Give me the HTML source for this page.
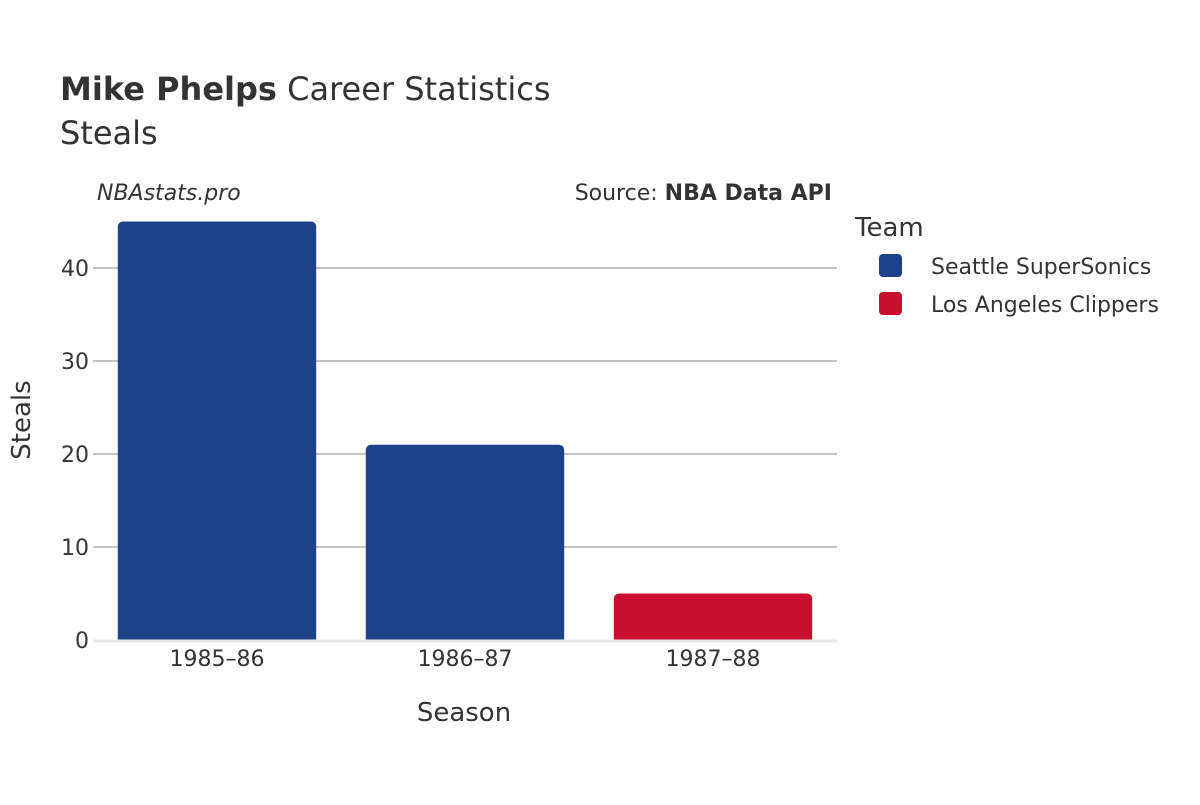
<!DOCTYPE html>
<html><head><meta charset="utf-8"><style>
body{margin:0;background:#fff;}
svg{font-family:"DejaVu Sans","Liberation Sans",sans-serif;}
</style></head><body>
<svg width="1200" height="800" viewBox="0 0 1200 800">
<rect width="1200" height="800" fill="#fff"/>
<text x="60" y="100" font-size="32" fill="#333"><tspan font-weight="bold">Mike Phelps</tspan> Career Statistics</text>
<text x="60" y="144" font-size="32" fill="#333">Steals</text>
<text x="97" y="200" font-size="22" font-style="italic" fill="#333">NBAstats.pro</text>
<text x="832" y="200" font-size="22" text-anchor="end" fill="#333">Source: <tspan font-weight="bold">NBA Data API</tspan></text>
<g id="grid"></g>
<g id="bars"></g>
<g id="xt"></g>
<text x="30" y="420" font-size="26" fill="#333" text-anchor="middle" transform="rotate(-90 30 420)">Steals</text>
<text x="464" y="721" font-size="26" fill="#333" text-anchor="middle">Season</text>
<text x="855" y="236" font-size="26" fill="#333">Team</text>
<g><rect x="879" y="254" width="23" height="23" rx="4" fill="#1d428a"/><text x="931" y="274" font-size="22" fill="#333">Seattle SuperSonics</text></g>
<g><rect x="879" y="292" width="23" height="23" rx="4" fill="#c8102e"/><text x="931" y="312" font-size="22" fill="#333">Los Angeles Clippers</text></g>
</svg>
<script>
const seasons=["1985–86","1986–87","1987–88"];
const steals=[45,21,5];
const teams=["Seattle SuperSonics","Seattle SuperSonics","Los Angeles Clippers"];
const yTicks=[0,10,20,30,40];
const colors={"Seattle SuperSonics":"#1d428a","Los Angeles Clippers":"#c8102e"};
const NS="http://www.w3.org/2000/svg";
const x0=93,x1=837,y0=640,pxPer=9.3;
const y=v=>y0-v*pxPer;
const band=(x1-x0)/seasons.length;
const g=document.getElementById('grid');
yTicks.forEach(t=>{
 if(t>0){const l=document.createElementNS(NS,'line');
 l.setAttribute('x1',x0);l.setAttribute('x2',x1);l.setAttribute('y1',y(t));l.setAttribute('y2',y(t));
 l.setAttribute('stroke','#888');l.setAttribute('stroke-width','1');
 
 
 g.appendChild(l);}
 const tx=document.createElementNS(NS,'text');
 tx.setAttribute('x',x0-4);tx.setAttribute('y',y(t)+8);tx.setAttribute('font-size','22');
 tx.setAttribute('fill','#333');tx.setAttribute('text-anchor','end');tx.textContent=t;
 
 
 g.appendChild(tx);
});
const b=document.getElementById('bars');
seasons.forEach((s,i)=>{
 const bw=band*0.8,bx=x0+band*i+band*0.1,top=y(steals[i]),h=y0-top;
 const p=document.createElementNS(NS,'path');
 const r=Math.min(6,h/2);
 p.setAttribute('d',`M${bx},${y0}V${top+r}Q${bx},${top} ${bx+r},${top}H${bx+bw-r}Q${bx+bw},${top} ${bx+bw},${top+r}V${y0}Z`);
 p.setAttribute('fill',colors[teams[i]]);
 
 
 b.appendChild(p);
 const tx=document.createElementNS(NS,'text');
 tx.setAttribute('x',x0+band*(i+0.5));tx.setAttribute('y',666);tx.setAttribute('font-size','22');
 tx.setAttribute('fill','#333');tx.setAttribute('text-anchor','middle');tx.textContent=s;
 
 
 document.getElementById('xt').appendChild(tx);
});
const base=document.createElementNS(NS,'line');
base.setAttribute('x1',x0);base.setAttribute('x2',x1);base.setAttribute('y1',y0+1);base.setAttribute('y2',y0+1);
base.setAttribute('stroke','#e8e8e8');base.setAttribute('stroke-width','3');


b.appendChild(base);
</script>
</body></html>
